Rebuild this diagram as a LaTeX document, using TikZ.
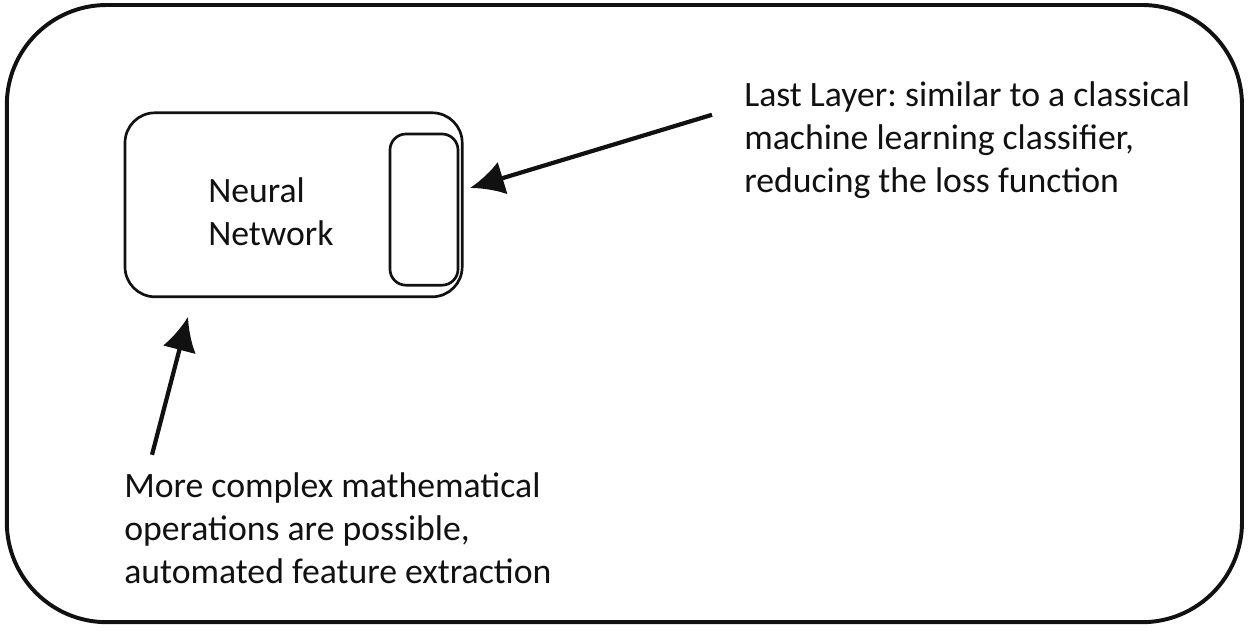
\documentclass[tikz,border=0pt]{standalone}
\usepackage{fontspec}
\setmainfont{Carlito}
\usetikzlibrary{
  positioning,
  arrows.meta,
}
\frenchspacing
\definecolor{border}{HTML}{111111}
\definecolor{textMain}{HTML}{111111}
\tikzset{
  framebox/.style={
    rectangle, rounded corners=2.5cm, draw=border, line width=2.8pt,
    minimum width=30.88cm, minimum height=15.43cm,
  },
  netbox/.style={
    rectangle, rounded corners=0.75cm, draw=border, line width=1.9pt,
    minimum width=8.43cm, minimum height=4.6cm,
  },
  layerbox/.style={
    rectangle, rounded corners=0.4cm, draw=border, line width=1.9pt,
    minimum width=1.7cm, minimum height=3.78cm,
  },
  note/.style={
    font=\fontsize{25.4}{30.5}\selectfont, text=textMain, align=left,
    inner sep=0pt, anchor=west,
  },
  arrow/.style={-{Latex[length=0.85cm, width=0.85cm]}, border, line width=3pt},
}

\begin{document}
\begin{tikzpicture}

  \useasboundingbox (0, 0) rectangle (31.35, 15.85);

  % Frame
  \node[framebox] (frame) at (15.61, 8.01) {};

  % Network with its last layer
  \node[netbox] (net) at (7.34, 10.73) {};
  \node[layerbox] (last) at (10.6, 10.61) {};
  \node[note] (netlbl) at (5.2, 10.55) {Neural\\Network};

  % Notes
  \node[note] (lastnote) at (18.6, 12.35) {Last Layer: similar to a classical\\machine learning classifier,\\reducing the loss function};
  \node[note] (opsnote) at (3.1, 2.65) {More complex mathematical\\operations are possible,\\automated feature extraction};

  \coordinate (lasttail) at (17.8, 12.98);
  \coordinate (lasttip) at (11.75, 11.15);
  \coordinate (opstail) at (3.8, 4.48);
  \coordinate (opstip) at (4.7, 7.93);

  \draw[arrow] (lasttail) -- (lasttip);
  \draw[arrow] (opstail) -- (opstip);

\end{tikzpicture}
\end{document}
